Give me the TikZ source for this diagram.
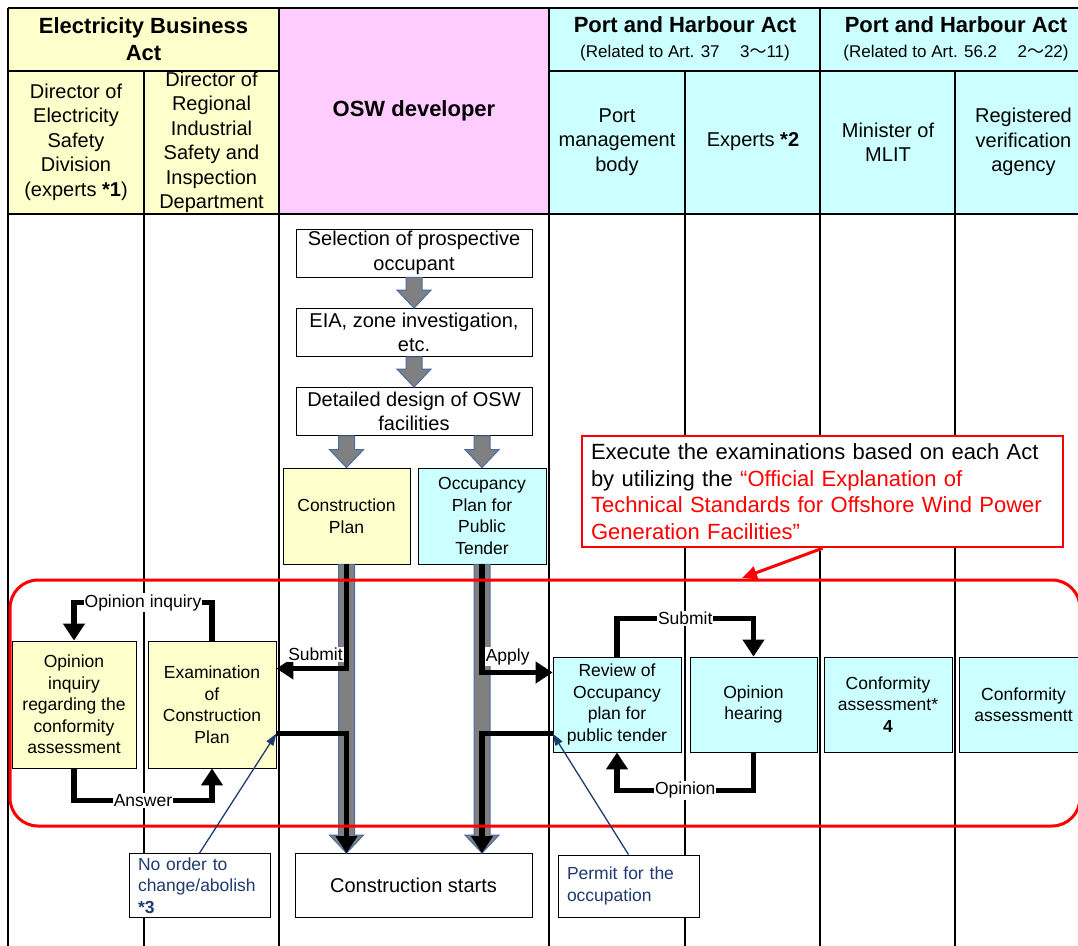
\documentclass[tikz,border=0pt]{standalone}
\usepackage{fontspec}
\setmainfont{Liberation Sans}
\newfontfamily\cjk{Noto Sans CJK JP}
\usepackage{tikz}
\usetikzlibrary{arrows.meta,calc}
\definecolor{ebayellow}{HTML}{FFFFCC}
\definecolor{oswpink}{HTML}{FFCCFF}
\definecolor{phacyan}{HTML}{CCFFFF}
\definecolor{notenavy}{HTML}{1F3A6E}
\definecolor{bargray}{HTML}{808080}
\definecolor{baredge}{HTML}{4A6DA7}

\begin{document}
\begin{tikzpicture}[x=1pt, y=-1pt,
	grid/.style={line width=1.5pt},
	acttext/.style={align=center, font=\bfseries\fontsize{22}{27}\selectfont},
	subtext/.style={font=\fontsize{17}{20}\selectfont},
	hdrtext/.style={align=center, font=\fontsize{20}{24.5}\selectfont},
	stepbox/.style={draw, fill=white, line width=0.8pt, align=center, inner sep=0pt, font=\fontsize{20}{24.5}\selectfont},
	planbox/.style={draw, line width=0.8pt, align=center, inner sep=0pt, font=\fontsize{17.5}{21.5}\selectfont},
	lbl/.style={fill=white, inner sep=1pt, font=\fontsize{17.5}{21}\selectfont},
	notebox/.style={draw, fill=white, line width=0.8pt, text=notenavy, align=left, inner xsep=9pt, inner ysep=0pt, font=\fontsize{17.5}{21.5}\selectfont},
	flow/.style={line width=5.5pt, -{Triangle[width=21pt,length=17pt]}},
	noteline/.style={notenavy, line width=1.3pt, -{Triangle[width=8pt,length=12pt]}},
	blockarr/.style={fill=bargray, draw=baredge, line width=1pt},
	]
	\useasboundingbox (0,0) rectangle (1078,945);
	%\draw[help lines] (0,0) grid[step=50] (1078,945);

	% table
	\fill[ebayellow] (8,8) rectangle (279,214);
	\fill[oswpink] (279,8) rectangle (549,214);
	\fill[phacyan] (549,8) rectangle (1095,214);
	\draw[grid] (8,8) -- (1095,8) (8,71) -- (279,71) (549,71) -- (1095,71) (8,214) -- (1095,214);
	\foreach \x in {8,279,549,820} \draw[grid] (\x,8) -- (\x,950);
	\foreach \x in {144,685,955} \draw[grid] (\x,71) -- (\x,950);

	\node[acttext] (eba) at (143.5,39.5) {Electricity Business\\Act};
	\node[acttext] (osw) at (414,111) {OSW developer};
	\node[acttext] (pha1) at (685,25) {Port and Harbour Act};
	\node[subtext] (pha1art) at (685,53) {(Related to Art. 37\hspace{1.2em}3{\cjk ～}11)};
	\node[acttext] (pha2) at (956,25) {Port and Harbour Act};
	\node[subtext] (pha2art) at (956,53) {(Related to Art. 56.2\hspace{1.2em}2{\cjk ～}22)};
	\node[hdrtext] (dir1) at (76,142) {Director of\\Electricity\\Safety\\Division\\(experts \textbf{*1})};
	\node[hdrtext] (dir2) at (211.5,142.5) {Director of\\Regional\\Industrial\\Safety and\\Inspection\\Department};
	\node[hdrtext] (pmb) at (617,142) {Port\\management\\body};
	\node[hdrtext] (exp) at (753,142) {Experts \textbf{*2}};
	\node[hdrtext] (mlit) at (888,142) {Minister of\\MLIT};
	\node[hdrtext] (rva) at (1023.5,142) {Registered\\verification\\agency};

	% developer steps
	\node[stepbox, minimum width=236pt, minimum height=48pt] (sel) at (414,253) {Selection of prospective\\occupant};
	\node[stepbox, minimum width=236pt, minimum height=48pt] (eia) at (414,332.5) {EIA, zone investigation,\\etc.};
	\node[stepbox, minimum width=236pt, minimum height=48pt] (dd) at (414,411.5) {Detailed design of OSW\\facilities};
	\node[planbox, fill=ebayellow, minimum width=127pt, minimum height=96pt] (cp) at (346.5,516) {Construction\\Plan};
	\node[planbox, fill=phacyan, minimum width=128pt, minimum height=96pt] (op) at (482,516) {Occupancy\\Plan for\\Public\\Tender};
	\node[stepbox, minimum width=237pt, minimum height=64pt] (cs) at (413.5,885.5) {Construction starts};

	% examinations
	\node[planbox, fill=ebayellow, minimum width=124pt, minimum height=127pt] (opi) at (74,704.5) {Opinion\\inquiry\\regarding the\\conformity\\assessment};
	\node[planbox, fill=ebayellow, minimum width=128pt, minimum height=127pt] (exam) at (212,704.5) {Examination\\of\\Construction\\Plan};
	\node[planbox, fill=phacyan, minimum width=128pt, minimum height=95pt] (rev) at (617,704.5) {Review of\\Occupancy\\plan for\\public tender};
	\node[planbox, fill=phacyan, minimum width=127pt, minimum height=95pt] (hear) at (753.5,704.5) {Opinion\\hearing};
	\node[planbox, fill=phacyan, minimum width=128pt, minimum height=95pt] (conf) at (888,704.5) {Conformity\\assessment*\\\textbf{4}};
	\node[planbox, fill=phacyan, minimum width=129pt, minimum height=95pt] (conf2) at (1023.5,704.5) {Conformity\\assessmentt};

	% block arrows
	\foreach \a/\b/\c in {sel/eia/eia, eia/dd/dd, dd/cp/cp, dd/op/op, cp/cs/cp, op/cs/op}
		\draw[blockarr] ($(\a.south -| \c.center)+(-8,0)$) -- ++(16,0) -- ($(\b.north -| \c.center)+(8,-18)$) -- ++(9,0) -- (\b.north -| \c.center) -- ++(-17,-18) -- ++(9,0) -- cycle;

	% flows
	\draw[flow] (cp.south) |- node[lbl, pos=0.5, anchor=south east, yshift=4pt, xshift=0pt] {Submit} ([yshift=36pt]exam.east);
	\draw[flow] ([yshift=-29pt]exam.east) -| (cs.north -| cp.south);
	\draw[flow] (op.south) |- node[lbl, pos=0.5, anchor=south west, yshift=4pt, xshift=0pt] {Apply} ([yshift=32pt]rev.west);
	\draw[flow] ([yshift=-29pt]rev.west) -| (cs.north -| op.south);
	\draw[flow] (exam.north) -- ++(0,-38) -| node[lbl, pos=0.25] {Opinion inquiry} (opi.north);
	\draw[flow] (opi.south) -- ++(0,32) -| node[lbl, pos=0.25] {Answer} (exam.south);
	\draw[flow] (rev.north) -- ++(0,-38) -| node[lbl, pos=0.25] {Submit} (hear.north);
	\draw[flow] (hear.south) -- ++(0,38) -| node[lbl, pos=0.25] {Opinion} (rev.south);

	% examination zone
	\draw[red, line width=3pt, rounded corners=28pt] (10,580) rectangle (1080,826);

	% callout
	\node[draw=red, line width=2.5pt, fill=white, text width=463pt, inner xsep=9pt, minimum height=111pt, align=left, font=\fontsize{22}{26.5}\selectfont] (call) at (822.5,491.5)
		{Execute the examinations based on each Act\\by utilizing the {\color{red}“Official Explanation of\\Technical Standards for Offshore Wind Power\\Generation Facilities”}};
	\coordinate (zonetop) at (742,578);
	\draw[red, line width=3pt, -{Triangle[width=13pt,length=15pt]}] (call.south) -- (zonetop);

	% results
	\node[notebox, text width=123pt, minimum height=64pt] (noc) at (199.5,885.5) {No order to\\change/abolish\\\textbf{*3}};
	\node[notebox, text width=123pt, minimum height=62pt] (perm) at (628.5,886) {Permit for the\\occupation};
	\draw[noteline] (noc.north) -- ([yshift=-29pt]exam.east);
	\draw[noteline] (perm.north) -- ([yshift=-29pt]rev.west);
\end{tikzpicture}
\end{document}
